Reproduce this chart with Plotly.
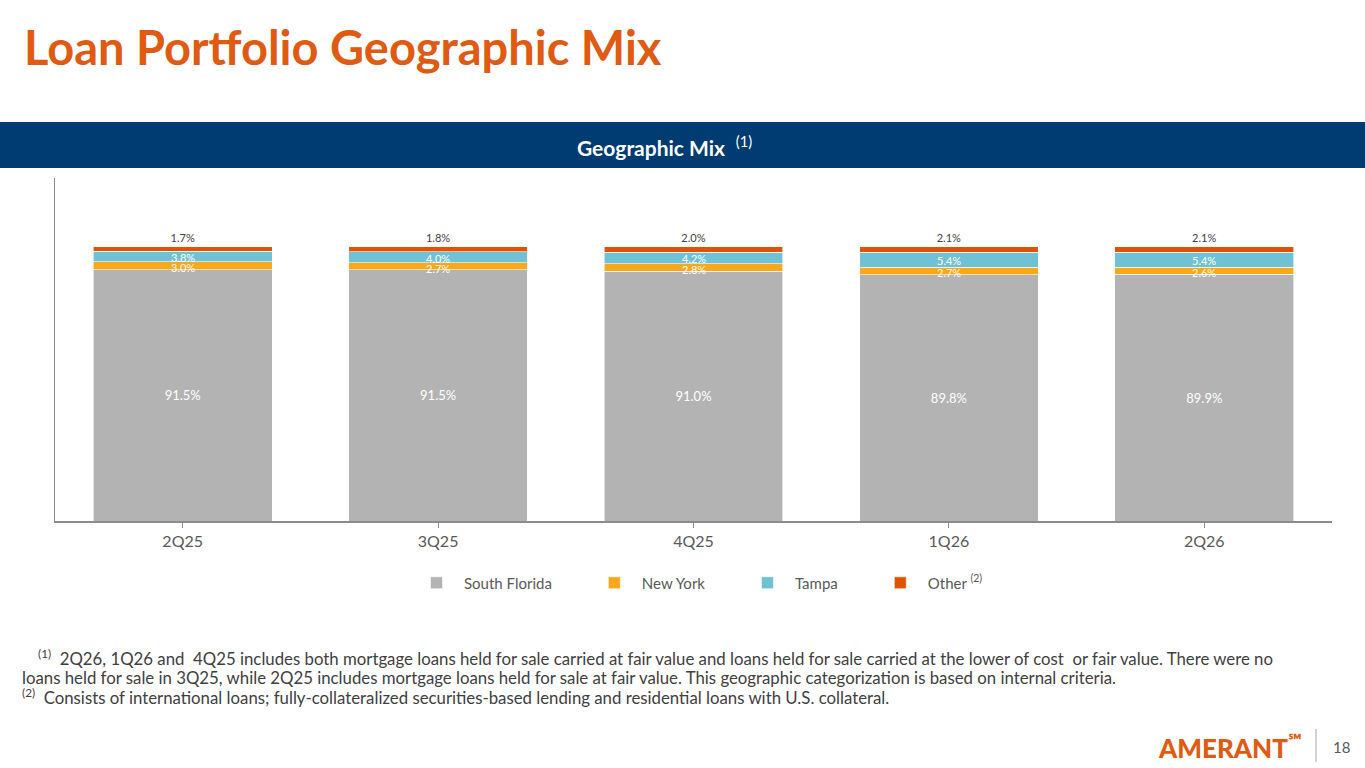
import plotly.graph_objects as go

quarters = ['2Q25', '3Q25', '4Q25', '1Q26', '2Q26']
south_florida = [91.5, 91.5, 91.0, 89.8, 89.9]
new_york = [3.0, 2.7, 2.8, 2.7, 2.6]
tampa = [3.8, 4.0, 4.2, 5.4, 5.4]
other = [1.7, 1.8, 2.0, 2.1, 2.1]

C_SF = '#B3B3B3'
C_NY = '#F9A81B'
C_TAMPA = '#71C1D5'
C_OTHER = '#E05206'
ORANGE = '#E05A12'
NAVY = '#003B71'
GRAY_TXT = '#595959'
NOTE_TXT = '#404040'
FONT = 'Lato'

W, H = 1365, 768
L, R, T, B = 55, 33, 178, 247
PW, PH = W - L - R, H - T - B


def px_x(x):
    return (x - L) / PW


def px_y(y):
    return (H - B - y) / PH


def fmt(vals):
    return [f'{v:.1f}%' for v in vals]


fig = go.Figure()
bar_line = dict(color='white', width=0.6)
pad = '\u2002' * 4  # espaco extra entre itens da legenda

fig.add_trace(go.Bar(
    x=quarters, y=south_florida, name='South Florida' + pad, marker=dict(color=C_SF, line=bar_line),
    text=fmt(south_florida), textposition='inside', insidetextanchor='middle',
    textfont=dict(family=FONT, size=13, color='white'),
))
fig.add_trace(go.Bar(
    x=quarters, y=new_york, name='New York' + pad, marker=dict(color=C_NY, line=bar_line),
))
fig.add_trace(go.Bar(
    x=quarters, y=tampa, name='Tampa' + pad, marker=dict(color=C_TAMPA, line=bar_line),
))
fig.add_trace(go.Bar(
    x=quarters, y=other, name='Other <sup>(2)</sup>', marker=dict(color=C_OTHER, line=bar_line),
    text=fmt(other), textposition='outside', cliponaxis=False,
    textfont=dict(family=FONT, size=11, color=NOTE_TXT),
))

annotations = []
# rotulos NY e Tampa no meio de cada segmento
for i, q in enumerate(quarters):
    base = south_florida[i]
    annotations.append(dict(
        x=q, y=base + new_york[i] / 2, text=f'{new_york[i]:.1f}%', showarrow=False, yshift=-2,
        font=dict(family=FONT, size=11, color='white'),
    ))
    base += new_york[i]
    annotations.append(dict(
        x=q, y=base + tampa[i] / 2, text=f'{tampa[i]:.1f}%', showarrow=False, yshift=-1,
        font=dict(family=FONT, size=11, color='white'),
    ))

annotations += [
    dict(xref='paper', yref='paper', x=px_x(22), y=px_y(47), xanchor='left', yanchor='middle',
         text='<b>Loan Portfolio Geographic Mix</b>', showarrow=False,
         font=dict(family=FONT, size=47, color=ORANGE)),
    dict(xref='paper', yref='paper', x=px_x(664), y=px_y(146), xanchor='center', yanchor='middle',
         text='<b>Geographic Mix</b>  <sup>(1)</sup>', showarrow=False,
         font=dict(family=FONT, size=21, color='white')),
    dict(xref='paper', yref='paper', x=px_x(36), y=px_y(657), xanchor='left', yanchor='middle',
         text='<sup>(1)</sup>  2Q26, 1Q26 and  4Q25 includes both mortgage loans held for sale carried at fair value '
              'and loans held for sale carried at the lower of cost  or fair value. There were no',
         showarrow=False, font=dict(family=FONT, size=16.8, color=NOTE_TXT)),
    dict(xref='paper', yref='paper', x=px_x(20), y=px_y(677), xanchor='left', yanchor='middle',
         text='loans held for sale in 3Q25, while 2Q25 includes mortgage loans held for sale at fair value. '
              'This geographic categorization is based on internal criteria.',
         showarrow=False, font=dict(family=FONT, size=16.8, color=NOTE_TXT)),
    dict(xref='paper', yref='paper', x=px_x(20), y=px_y(696), xanchor='left', yanchor='middle',
         text='<sup>(2)</sup>  Consists of international loans; fully-collateralized securities-based lending '
              'and residential loans with U.S. collateral.',
         showarrow=False, font=dict(family=FONT, size=16.8, color=NOTE_TXT)),
    dict(xref='paper', yref='paper', x=px_x(1304), y=px_y(746), xanchor='right', yanchor='middle',
         text='AMERANT<sup>℠</sup>', showarrow=False,
         font=dict(family=FONT, size=26, color=ORANGE, weight=900)),
    dict(xref='paper', yref='paper', x=px_x(1341), y=px_y(747), xanchor='center', yanchor='middle',
         text='18', showarrow=False, font=dict(family=FONT, size=15, color=GRAY_TXT)),
]

shapes = [
    dict(type='rect', xref='paper', yref='paper', x0=px_x(0), x1=px_x(W), y0=px_y(168), y1=px_y(122),
         fillcolor=NAVY, line=dict(width=0), layer='below'),
    dict(type='line', xref='paper', yref='paper', x0=px_x(1316), x1=px_x(1316), y0=px_y(762), y1=px_y(729),
         line=dict(color='#A6A6A6', width=1)),
]

fig.update_layout(
    width=W, height=H,
    margin=dict(l=L, r=R, t=T, b=B),
    barmode='stack', bargap=0.3,
    plot_bgcolor='white', paper_bgcolor='white',
    font=dict(family=FONT, color=GRAY_TXT),
    showlegend=True,
    legend=dict(orientation='h', x=px_x(409), y=px_y(583), xanchor='left', yanchor='middle',
                font=dict(family=FONT, size=15, color=GRAY_TXT), itemwidth=45,
                traceorder='normal'),
    annotations=annotations,
    shapes=shapes,
)
fig.update_xaxes(showline=True, linecolor='#8C8C8C', linewidth=1.5, ticks='outside', ticklen=5,
                 tickcolor='#8C8C8C', tickfont=dict(family=FONT, size=16, color=GRAY_TXT), showgrid=False)
fig.update_yaxes(range=[0, 125], showline=True, linecolor='#8C8C8C', linewidth=1, showticklabels=False,
                 showgrid=False, zeroline=False, ticks='')

# sem a margem padrao do body para o grafico comecar no canto
fig.write_html('out.html', config={'displayModeBar': False},
               post_script="document.body.style.margin='0';")
